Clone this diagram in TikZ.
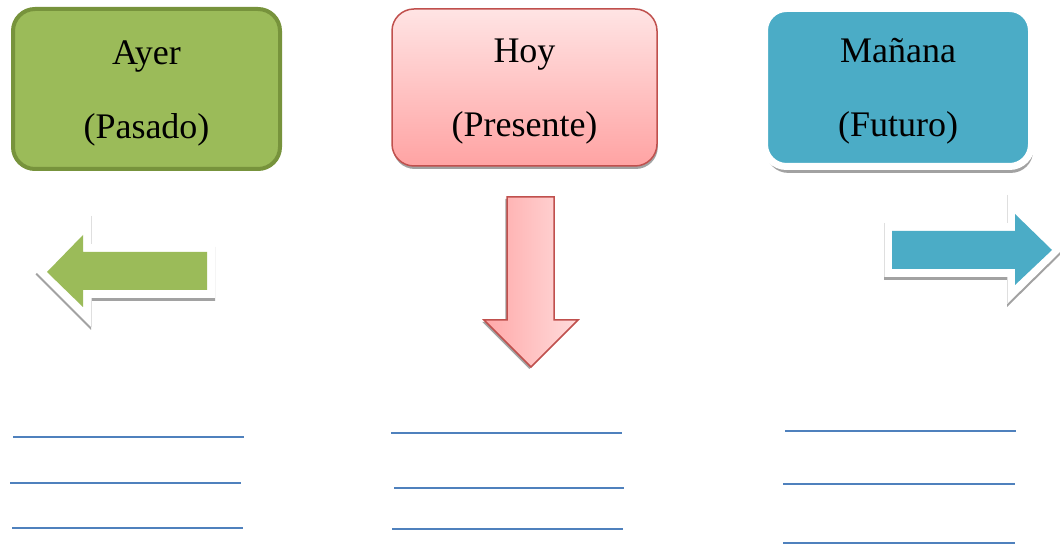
\documentclass[tikz,border=0pt]{standalone}
\usepackage{fontspec}
\setmainfont{Liberation Serif}
\usetikzlibrary{shadows}

\definecolor{ayergreen}{HTML}{9BBB59}
\definecolor{ayerborder}{HTML}{77933C}
\definecolor{hoyborder}{HTML}{C0504D}
\definecolor{hoytop}{HTML}{FFE4E4}
\definecolor{hoybottom}{HTML}{FFA3A3}
\definecolor{hoyleft}{HTML}{FFA8A8}
\definecolor{hoyright}{HTML}{FFDCDC}
\definecolor{mananablue}{HTML}{4BACC6}
\definecolor{lineblue}{HTML}{4F81BD}
\definecolor{shadowgray}{HTML}{A2A2A2}

\tikzset{
    timebox/.style={rectangle, rounded corners=11pt, inner sep=0pt,
        minimum width=133pt, minimum height=79pt},
    timetext/.style={align=center, inner sep=0pt, font=\fontsize{18}{37}\selectfont},
    softshadow/.style={drop shadow={shadow xshift=0.4pt, shadow yshift=-1.5pt, fill=shadowgray, opacity=1}},
    arrowshadow/.style={drop shadow={shadow xshift=0pt, shadow yshift=-1.5pt, fill=shadowgray, opacity=1}},
    blankline/.style={draw=lineblue, line width=1pt},
    faintedge/.style={draw=gray!25, line width=0.4pt}
}

\begin{document}
\begin{tikzpicture}[x=0.5pt, y=-0.5pt]
    \useasboundingbox (0,0) rectangle (1060,544);

    \node[timebox, fill=ayergreen, draw=ayerborder, line width=2pt, minimum width=133.5pt, minimum height=80pt] (ayer) at (146.5,89) {};
    \node[timetext] (ayertext) at ([yshift=-2pt]ayer.center) {
        Ayer\\
        (Pasado)
    };

    \node[timebox, top color=hoytop, bottom color=hoybottom, draw=hoyborder, line width=0.75pt, softshadow, minimum width=132.5pt, minimum height=78.5pt] (hoy) at (524.5,87.5) {};
    \node[timetext] (hoytext) at ([yshift=-2pt]hoy.center) {
        Hoy\\
        (Presente)
    };

    \node[timebox, fill=mananablue, draw=white, line width=3.5pt, minimum width=133.5pt,
        drop shadow={shadow xshift=0.8pt, shadow yshift=-3.2pt, fill=shadowgray, opacity=1}] (manana) at (898,87.5) {};
    \node[timetext] (mananatext) at ([yshift=-2pt]manana.center) {
        Mañana\\
        (Futuro)
    };

    % flecha hacia el pasado
    \fill[white, arrowshadow] (35.5,271.5) -- (91,216) -- (91,244) -- (215,244) -- (215,298) -- (91,298) -- (91,327) -- cycle;
    \draw[faintedge] (91,216) -- (91,244) (91,298) -- (91,327);
    \fill[ayergreen] (47,272) -- (83,235) -- (83,252) -- (207,252) -- (207,290) -- (83,290) -- (83,307) -- cycle;

    % flecha hacia el presente
    \draw[draw=hoyborder, line width=0.75pt, left color=hoyleft, right color=hoyright,
        drop shadow={shadow xshift=-0.8pt, shadow yshift=-1pt, fill=shadowgray, opacity=1}]
        (507,197) -- (554,197) -- (554,320) -- (578,320) -- (531,367) -- (484,320) -- (507,320) -- cycle;

    % flecha hacia el futuro
    \fill[white, arrowshadow] (884,223) -- (1007,223) -- (1007,195) -- (1062,250) -- (1007,304) -- (1007,277) -- (884,277) -- cycle;
    \draw[faintedge] (1007,195) -- (1007,223) (1007,277) -- (1007,304) (884,223) -- (884,277);
    \fill[mananablue] (892,231) -- (1015,231) -- (1015,214) -- (1052,250) -- (1015,285) -- (1015,269) -- (892,269) -- cycle;

    \draw[blankline] (13,437) -- (244,437);
    \draw[blankline] (10,483) -- (241,483);
    \draw[blankline] (12,528) -- (243,528);

    \draw[blankline] (391,433) -- (622,433);
    \draw[blankline] (394,488) -- (624,488);
    \draw[blankline] (392,529) -- (623,529);

    \draw[blankline] (785,431) -- (1016,431);
    \draw[blankline] (783,484) -- (1015,484);
    \draw[blankline] (783,543) -- (1015,543);
\end{tikzpicture}
\end{document}
